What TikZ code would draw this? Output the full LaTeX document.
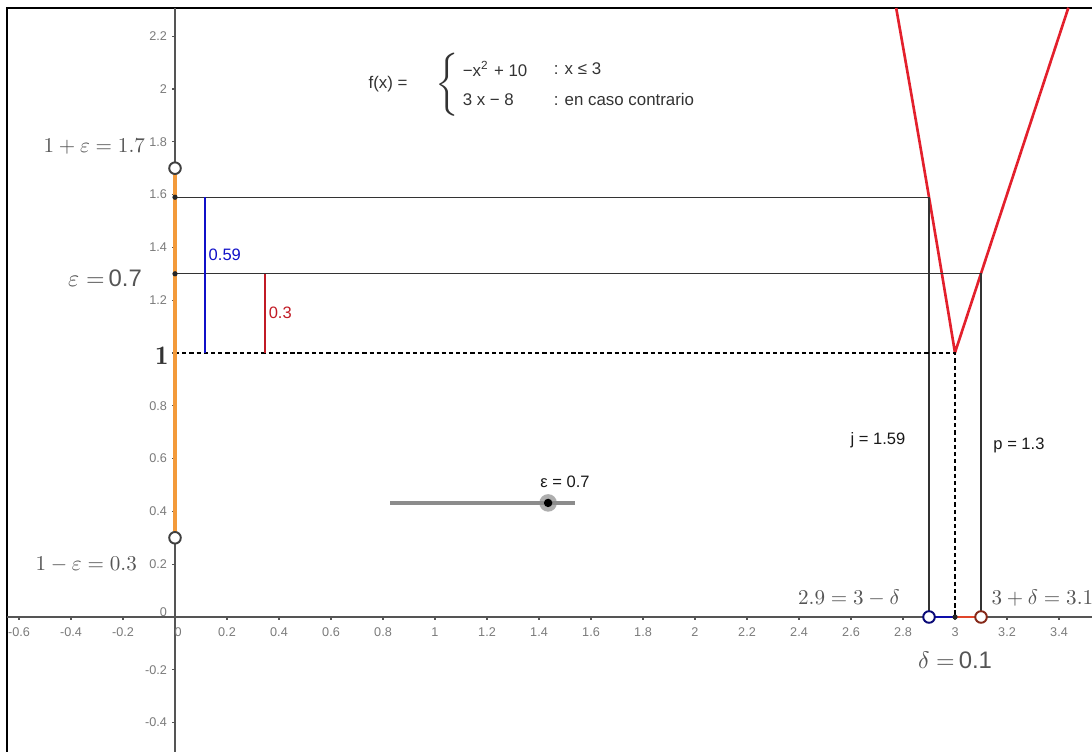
\documentclass[tikz,border=0pt]{standalone}
\usepackage{fontspec}
\newfontfamily\gsans{Liberation Sans}
\definecolor{axisgray}{HTML}{555555}
\definecolor{ticktext}{HTML}{7A7A7A}
\definecolor{labgray}{HTML}{555555}
\definecolor{ggorange}{HTML}{F39A3A}
\definecolor{ggblue}{HTML}{1010C8}
\definecolor{ggred}{HTML}{E3202C}
\definecolor{segred}{HTML}{E0452A}
\newcommand\mlab[1]{\scalebox{0.6}{\fontsize{10}{12}\selectfont #1}}
\newcommand\vlab[1]{\scalebox{0.68}{\fontsize{10}{12}\selectfont #1}}
\begin{document}
\begin{tikzpicture}[x=2.6cm,y=2.64cm,
  axis/.style={draw=axisgray,line width=0.35pt},
  tickx/.style={font=\gsans\fontsize{3.6}{4}\selectfont,text=ticktext,inner sep=0pt},
  ticky/.style={font=\gsans\fontsize{3.6}{4}\selectfont,text=ticktext,inner sep=0pt,anchor=east},
  thinline/.style={draw=black!80,line width=0.3pt},
  dashline/.style={draw=black,line width=0.7pt,dash pattern=on 1.2pt off 0.85pt},
  mathlab/.style={text=labgray,inner sep=0pt},
  sanslab/.style={inner sep=0pt,font=\gsans\fontsize{4.7}{6}\selectfont},
  opencirc/.style={circle,draw=#1,line width=0.55pt,fill=white,minimum size=3.3pt,inner sep=0pt},
  dotpt/.style={circle,fill=black!85,minimum size=1.5pt,inner sep=0pt}]
\useasboundingbox (-0.67308,-0.51136) rectangle (3.52692,2.33712);
% frame
\draw[line width=0.65pt] (-0.646,-0.52) -- (-0.646,2.307) -- (3.53,2.307);
% axes
\draw[axis] (-0.646,0) -- (3.53,0);
\draw[axis] (0,-0.52) -- (0,2.307);
% ticks
\foreach \v in {-0.6,-0.4,-0.2,0.2,0.4,0.6,0.8,1,1.2,1.4,1.6,1.8,2,2.2,2.4,2.6,2.8,3,3.2,3.4}
  \draw[axis] (\v,0) -- (\v,-0.012);
\foreach \v in {-0.4,-0.2,0.2,0.4,0.6,0.8,1,1.2,1.4,1.6,1.8,2,2.2}
  \draw[axis] (0,\v) -- (-0.012,\v);
% x tick labels
\foreach \v/\l in {-0.6/-0.6,-0.4/-0.4,-0.2/-0.2,0.2/0.2,0.4/0.4,0.6/0.6,0.8/0.8,1/1,1.2/1.2,1.4/1.4,1.6/1.6,1.8/1.8,2/2,2.2/2.2,2.4/2.4,2.6/2.6,2.8/2.8,3/3,3.2/3.2,3.4/3.4}
  \node[tickx] (tx\l) at (\v,-0.058) {\l};
\node[tickx] (tx0) at (0.012,-0.058) {0};
% y tick labels
\foreach \v/\l in {2.2/2.2,2/2,1.8/1.8,1.6/1.6,1.4/1.4,1.2/1.2,0.8/0.8,0.6/0.6,0.4/0.4,0.2/0.2,-0.2/-0.2,-0.4/-0.4}
  \node[ticky] (ty\l) at (-0.028,\v) {\l};
\node[ticky] (ty0) at (-0.028,0.02) {0};
% function
\draw[ggred,line width=0.75pt,line join=round] plot[domain=2.7737:3,samples=30] (\x,{10-\x*\x}) -- (3.4360,2.308);
% key coordinates
\coordinate (Y1) at (0,1);
\coordinate (Yj) at (0,1.59);
\coordinate (Yp) at (0,1.3);
\coordinate (Fj) at (2.9,1.59);
\coordinate (Fp) at (3.1,1.3);
\coordinate (F3) at (3,1);
\coordinate (Xj) at (2.9,0);
\coordinate (Xp) at (3.1,0);
\coordinate (X3) at (3,0);
% thin guide lines
\draw[thinline] (Yj) -- (Fj) -- (Xj);
\draw[thinline] (Yp) -- (Fp) -- (Xp);
% dashed lines
\draw[dashline] (Y1) -- (F3) -- (X3);
% orange interval on y axis
\draw[ggorange,line width=0.9pt] (0,0.3) -- (0,1.7);
% blue and red vertical segments
\draw[ggblue,line width=0.65pt] (0.115,1) -- (0.115,1.59);
\draw[ggred!85!black,line width=0.55pt] (0.346,1) -- (0.346,1.3);
\node[sanslab,text=ggblue,anchor=west] (l059) at (0.127,1.371) {0.59};
\node[sanslab,text=ggred!85!black,anchor=west] (l03) at (0.358,1.152) {0.3};
% interval on x axis
\draw[ggblue!85!black,line width=0.6pt] (Xj) -- (X3);
\draw[segred,line width=0.6pt] (X3) -- (Xp);
% points
\node[dotpt] (pj) at (Yj) {};
\node[dotpt] (pp) at (Yp) {};
\node[dotpt] (p3) at (X3) {};
\node[opencirc=black!75] (ctop) at (0,1.7) {};
\node[opencirc=black!75] (cbot) at (0,0.3) {};
\node[opencirc=ggblue!60!black] (cxl) at (Xj) {};
\node[opencirc=segred!60!black] (cxr) at (Xp) {};
% math labels
\node[mathlab,anchor=east] (l17) at (-0.113,1.78) {\mlab{$1+\varepsilon=1.7$}};
\node[mathlab,anchor=east] (leps) at (-0.125,1.284) {\vlab{$\varepsilon=${\gsans\,0.7}}};
\node[text=black!80,inner sep=0pt,anchor=east,font=\fontsize{7.6}{9}\selectfont] (lone) at (-0.022,0.99) {$\mathbf{1}$};
\node[mathlab,anchor=east] (l03b) at (-0.144,0.197) {\mlab{$1-\varepsilon=0.3$}};
\node[mathlab,anchor=east] (l29) at (2.79,0.072) {\mlab{$2.9=3-\delta$}};
\node[mathlab,anchor=west] (l31) at (3.138,0.072) {\mlab{$3+\delta=3.1$}};
\node[mathlab] (ldel) at (3.0,-0.165) {\vlab{$\delta=${\gsans\,0.1}}};
% j and p labels
\node[sanslab,text=black!90] (lj) at (2.704,0.67) {j = 1.59};
\node[sanslab,text=black!90] (lp) at (3.246,0.65) {p = 1.3};
% slider
\draw[black!45,line width=0.95pt] (0.827,0.432) -- (1.538,0.432);
\node[circle,fill=black!45,opacity=0.7,minimum size=5pt,inner sep=0pt] (halo) at (1.435,0.432) {};
\node[circle,fill=black,minimum size=2.4pt,inner sep=0pt] (knob) at (1.435,0.432) {};
\node[sanslab,text=black!90] (lslider) at (1.5,0.511) {ε = 0.7};
% formula
\begin{scope}[every node/.style={inner sep=0pt,text=black!80,font=\gsans\fontsize{4.8}{6}\selectfont}]
\node[anchor=west] (ffx) at (0.742,2.02) {f(x) =};
\node[anchor=west,font=\fontsize{6}{7}\selectfont] (fbr) at (1.0,2.018) {$\left\{\rule{0pt}{11pt}\right.$};
\node[anchor=west] (fr1a) at (1.104,2.075) {−x\textsuperscript{2} + 10};
\node[anchor=west] (fr1b) at (1.454,2.075) {: x ≤ 3};
\node[anchor=west] (fr2a) at (1.104,1.96) {3 x − 8};
\node[anchor=west] (fr2b) at (1.454,1.96) {: en caso contrario};
\end{scope}
\end{tikzpicture}
\end{document}
